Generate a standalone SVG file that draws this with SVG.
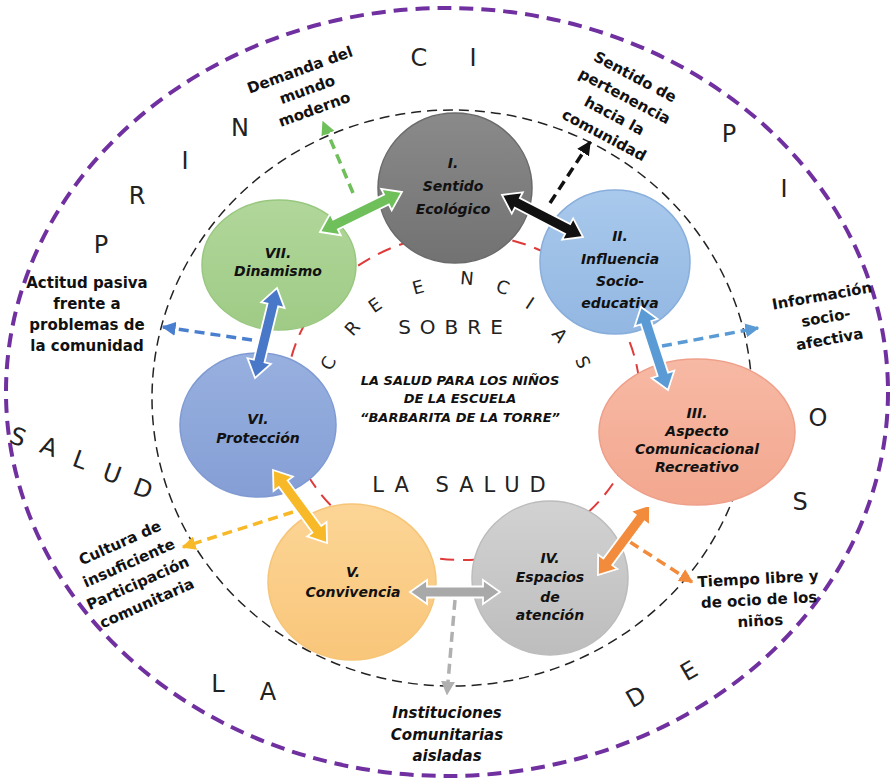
<svg xmlns="http://www.w3.org/2000/svg" xmlns:xlink="http://www.w3.org/1999/xlink" width="893" height="780" viewBox="0 0 893 780">
<style>
.ring{font-family:"DejaVu Sans","Liberation Sans",sans-serif;font-weight:normal;fill:#222;text-anchor:middle;dominant-baseline:central}
.lbl{font-family:"DejaVu Sans","Liberation Sans",sans-serif;font-weight:bold;font-size:15px;fill:#111;text-anchor:middle}
.nt{font-family:"DejaVu Sans","Liberation Sans",sans-serif;font-weight:bold;font-style:italic;font-size:14px;fill:#111;text-anchor:middle}
.ct{font-family:"DejaVu Sans","Liberation Sans",sans-serif;font-weight:bold;font-style:italic;font-size:13px;fill:#111;text-anchor:middle}
.dash{fill:none;stroke-width:3.5;stroke-dasharray:10 6}
.node{stroke-width:1.5}
</style>
<defs>
<path id="dbl" d="M0,0 L17,-12 L17,-5.5 L73,-5.5 L73,-12 L90,0 L73,12 L73,5.5 L17,5.5 L17,12 Z" stroke="#fff" stroke-width="1.8" stroke-linejoin="miter"/>
<marker id="mgreen" viewBox="0 0 10 10" refX="9" refY="5" markerWidth="14" markerHeight="14" markerUnits="userSpaceOnUse" orient="auto"><path d="M0,0 L10,5 L0,10 z" fill="#6fbf5b"/></marker>
<marker id="mblack" viewBox="0 0 10 10" refX="9" refY="5" markerWidth="14" markerHeight="14" markerUnits="userSpaceOnUse" orient="auto"><path d="M0,0 L10,5 L0,10 z" fill="#111"/></marker>
<marker id="mblue" viewBox="0 0 10 10" refX="9" refY="5" markerWidth="14" markerHeight="14" markerUnits="userSpaceOnUse" orient="auto"><path d="M0,0 L10,5 L0,10 z" fill="#5b9bd5"/></marker>
<marker id="mblue2" viewBox="0 0 10 10" refX="9" refY="5" markerWidth="14" markerHeight="14" markerUnits="userSpaceOnUse" orient="auto"><path d="M0,0 L10,5 L0,10 z" fill="#4a7fd0"/></marker>
<marker id="mgold" viewBox="0 0 10 10" refX="9" refY="5" markerWidth="14" markerHeight="14" markerUnits="userSpaceOnUse" orient="auto"><path d="M0,0 L10,5 L0,10 z" fill="#f8b928"/></marker>
<marker id="mgray" viewBox="0 0 10 10" refX="9" refY="5" markerWidth="14" markerHeight="14" markerUnits="userSpaceOnUse" orient="auto"><path d="M0,0 L10,5 L0,10 z" fill="#b0b0b0"/></marker>
<marker id="morange" viewBox="0 0 10 10" refX="9" refY="5" markerWidth="14" markerHeight="14" markerUnits="userSpaceOnUse" orient="auto"><path d="M0,0 L10,5 L0,10 z" fill="#f28c3c"/></marker>
<linearGradient id="g1" x1="0" y1="0" x2="0" y2="1"><stop offset="0" stop-color="#8a8a8a"/><stop offset="1" stop-color="#727272"/></linearGradient>
<linearGradient id="g2" x1="0" y1="0" x2="0" y2="1"><stop offset="0" stop-color="#a9c9ec"/><stop offset="1" stop-color="#92b7e2"/></linearGradient>
<linearGradient id="g3" x1="0" y1="0" x2="0" y2="1"><stop offset="0" stop-color="#f7b9a4"/><stop offset="1" stop-color="#f3a78f"/></linearGradient>
<linearGradient id="g4" x1="0" y1="0" x2="0" y2="1"><stop offset="0" stop-color="#d2d2d2"/><stop offset="1" stop-color="#bdbdbd"/></linearGradient>
<linearGradient id="g5" x1="0" y1="0" x2="0" y2="1"><stop offset="0" stop-color="#fcd596"/><stop offset="1" stop-color="#f9c67a"/></linearGradient>
<linearGradient id="g6" x1="0" y1="0" x2="0" y2="1"><stop offset="0" stop-color="#97b0df"/><stop offset="1" stop-color="#859fd6"/></linearGradient>
<linearGradient id="g7" x1="0" y1="0" x2="0" y2="1"><stop offset="0" stop-color="#b1d79a"/><stop offset="1" stop-color="#9fcb86"/></linearGradient>
</defs>
<rect width="893" height="780" fill="#fff"/>

<!-- rings -->
<g id="rings">
<ellipse cx="447" cy="392" rx="441" ry="384" fill="none" stroke="#7030a0" stroke-width="4" stroke-dasharray="14 8"/>
<ellipse cx="452" cy="398" rx="300" ry="288" fill="none" stroke="#222" stroke-width="1.5" stroke-dasharray="10 6"/>
<ellipse cx="463" cy="397" rx="177" ry="163" fill="none" stroke="#e03a3a" stroke-width="2" stroke-dasharray="14 9"/>
</g>

<!-- outer ring letters -->
<g id="ring-letters" font-size="24">
<text class="ring" x="101" y="245">P</text>
<text class="ring" x="137" y="196">R</text>
<text class="ring" x="185" y="161">I</text>
<text class="ring" x="240" y="128">N</text>
<text class="ring" x="419" y="58">C</text>
<text class="ring" x="473" y="58">I</text>
<text class="ring" x="729" y="134">P</text>
<text class="ring" x="784" y="189">I</text>
<text class="ring" x="818" y="418">O</text>
<text class="ring" x="800" y="502">S</text>
<text class="ring" transform="translate(689,671) rotate(-30)">E</text>
<text class="ring" transform="translate(636,697) rotate(-30)">D</text>
<text class="ring" x="268" y="692">A</text>
<text class="ring" x="218" y="684">L</text>
<text class="ring" transform="translate(18,437) rotate(20)">S</text>
<text class="ring" transform="translate(49,447) rotate(20)">A</text>
<text class="ring" transform="translate(80,460) rotate(20)">L</text>
<text class="ring" transform="translate(112,474) rotate(20)">U</text>
<text class="ring" transform="translate(143,489) rotate(20)">D</text>
</g>

<!-- center texts -->
<g id="center" font-size="18">
<text class="ring" transform="translate(328,363) rotate(-66)">C</text>
<text class="ring" transform="translate(352,328) rotate(-48)">R</text>
<text class="ring" transform="translate(375,305) rotate(-35)">E</text>
<text class="ring" transform="translate(418,287) rotate(-15)">E</text>
<text class="ring" transform="translate(467,278) rotate(5)">N</text>
<text class="ring" transform="translate(503,287) rotate(20)">C</text>
<text class="ring" transform="translate(530,303) rotate(33)">I</text>
<text class="ring" transform="translate(560,335) rotate(51)">A</text>
<text class="ring" transform="translate(583,362) rotate(66)">S</text>
<text class="ring" x="455" y="327" font-size="20" letter-spacing="9">SOBRE</text>
<text class="ring" x="464" y="485" font-size="21" letter-spacing="10">LA SALUD</text>
<text class="ct" x="460" y="385">LA SALUD PARA LOS NIÑOS</text>
<text class="ct" x="460" y="403">DE LA ESCUELA</text>
<text class="ct" x="460" y="422">“BARBARITA DE LA TORRE”</text>
</g>

<!-- connectors -->
<g id="connectors">
<line class="dash" x1="353" y1="193" x2="323" y2="122" stroke="#6fbf5b" marker-end="url(#mgreen)"/>
<line class="dash" x1="550" y1="203" x2="590" y2="142" stroke="#111" marker-end="url(#mblack)"/>
<line class="dash" x1="662" y1="346" x2="758" y2="328" stroke="#5b9bd5" marker-end="url(#mblue)"/>
<line class="dash" x1="252" y1="340" x2="163" y2="327" stroke="#4a7fd0" marker-end="url(#mblue2)"/>
<line class="dash" x1="293" y1="512" x2="183" y2="547" stroke="#f8b928" marker-end="url(#mgold)"/>
<line class="dash" x1="455" y1="600" x2="447" y2="694" stroke="#b0b0b0" marker-end="url(#mgray)"/>
<line class="dash" x1="630" y1="542" x2="692" y2="582" stroke="#f28c3c" marker-end="url(#morange)"/>
</g>

<!-- nodes -->
<g id="node-I"><ellipse class="node" cx="455" cy="188" rx="77" ry="75" fill="url(#g1)" stroke="#6a6a6a"/>
<text class="nt" x="453" y="168">I.</text><text class="nt" x="453" y="191">Sentido</text><text class="nt" x="453" y="214">Ecológico</text></g>
<g id="node-II"><ellipse class="node" cx="615" cy="262" rx="75" ry="72" fill="url(#g2)" stroke="#88aedc"/>
<text class="nt" x="620" y="241">II.</text><text class="nt" x="620" y="264">Influencia</text><text class="nt" x="620" y="286">Socio-</text><text class="nt" x="620" y="308">educativa</text></g>
<g id="node-III"><ellipse class="node" cx="697" cy="432" rx="98" ry="73" fill="url(#g3)" stroke="#eea08a"/>
<text class="nt" x="697" y="418">III.</text><text class="nt" x="697" y="436">Aspecto</text><text class="nt" x="697" y="454">Comunicacional</text><text class="nt" x="697" y="472">Recreativo</text></g>
<g id="node-IV"><ellipse class="node" cx="550" cy="578" rx="78" ry="77" fill="url(#g4)" stroke="#bcbcbc"/>
<text class="nt" x="550" y="563">IV.</text><text class="nt" x="550" y="582">Espacios</text><text class="nt" x="550" y="602">de</text><text class="nt" x="550" y="620">atención</text></g>
<g id="node-V"><ellipse class="node" cx="352" cy="582" rx="84" ry="78" fill="url(#g5)" stroke="#f6c577"/>
<text class="nt" x="353" y="577">V.</text><text class="nt" x="353" y="597">Convivencia</text></g>
<g id="node-VI"><ellipse class="node" cx="258" cy="425" rx="78" ry="72" fill="url(#g6)" stroke="#7f9ad3"/>
<text class="nt" x="258" y="424">VI.</text><text class="nt" x="258" y="443">Protección</text></g>
<g id="node-VII"><ellipse class="node" cx="279" cy="265" rx="77" ry="65" fill="url(#g7)" stroke="#98c77f"/>
<text class="nt" x="278" y="258">VII.</text><text class="nt" x="278" y="276">Dinamismo</text></g>

<!-- block double arrows -->
<g id="block-arrows">
<use href="#dbl" fill="#6fbf5b" transform="translate(320,232) rotate(-26) scale(1.013,1)"/>
<use href="#dbl" fill="#111111" transform="translate(502,195) rotate(27.4) scale(1.013,1)"/>
<use href="#dbl" fill="#5b9bd5" transform="translate(641,307) rotate(72) scale(0.97,1)"/>
<use href="#dbl" fill="#f28c3c" transform="translate(650,505) rotate(126.6) scale(0.97,1)"/>
<use href="#dbl" fill="#a9a9a9" transform="translate(410,592) rotate(0)"/>
<use href="#dbl" fill="#f8b928" transform="translate(273,470) rotate(53.5) scale(1.01,1)"/>
<use href="#dbl" fill="#4a78c8" transform="translate(277,288) rotate(103.7) scale(1.03,1)"/>
</g>

<!-- outer labels -->
<g id="labels">
<g transform="translate(300,70) rotate(-20)"><text class="lbl" y="5">Demanda del</text><text class="lbl" y="26">mundo</text><text class="lbl" y="47">moderno</text></g>
<g transform="translate(635,77) rotate(28)"><text class="lbl" y="5">Sentido de</text><text class="lbl" y="27">pertenencia</text><text class="lbl" y="49">hacia la</text><text class="lbl" y="71">comunidad</text></g>
<g transform="translate(822,296) rotate(-10)"><text class="lbl" y="5">Información</text><text class="lbl" y="27">socio-</text><text class="lbl" y="49">afectiva</text></g>
<g><text class="lbl" x="87" y="288">Actitud pasiva</text><text class="lbl" x="87" y="309">frente a</text><text class="lbl" x="87" y="330">problemas de</text><text class="lbl" x="87" y="351">la comunidad</text></g>
<g transform="translate(120,543) rotate(-24)"><text class="lbl" y="5">Cultura de</text><text class="lbl" y="27">insuficiente</text><text class="lbl" y="49">Participación</text><text class="lbl" y="71">comunitaria</text></g>
<g><text class="lbl" x="447" y="718" font-style="italic">Instituciones</text><text class="lbl" x="447" y="740" font-style="italic">Comunitarias</text><text class="lbl" x="447" y="761" font-style="italic">aisladas</text></g>
<g transform="translate(758,579) rotate(-3)"><text class="lbl" y="5">Tiempo libre y</text><text class="lbl" y="26">de ocio de los</text><text class="lbl" y="47">niños</text></g>
</g>
</svg>
